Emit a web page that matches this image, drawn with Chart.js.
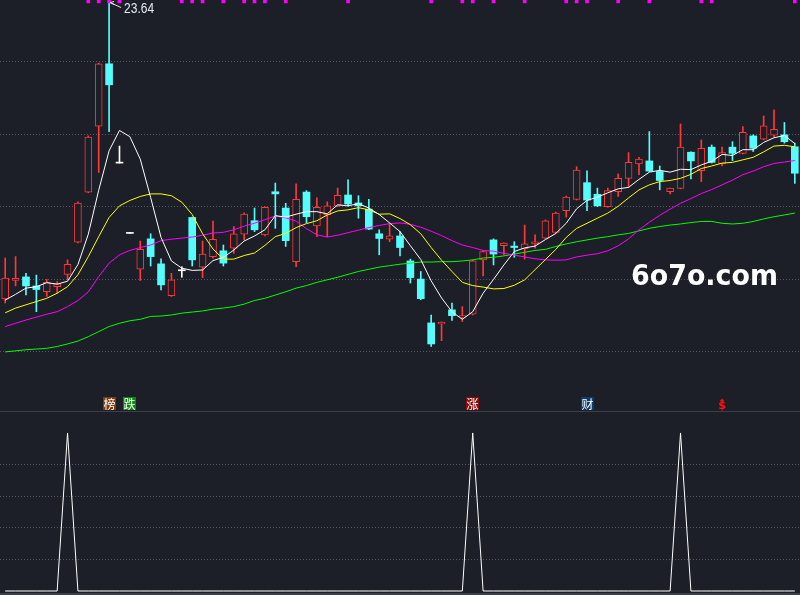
<!DOCTYPE html>
<html><head><meta charset="utf-8">
<script src="https://cdn.jsdelivr.net/npm/chart.js@4.4.1/dist/chart.umd.min.js"></script>
<style>
html,body{margin:0;padding:0;background:#1c1f27;overflow:hidden;}
#wrap{position:relative;width:800px;height:595px;background:#1c1f27;}
#main{position:absolute;left:0;top:0;}
#sub{position:absolute;left:0;top:411px;}
</style></head><body>
<div id="wrap"><canvas id="main" width="800" height="411"></canvas><canvas id="sub" width="800" height="184"></canvas></div>
<script>
// ---- data ----
const opens  = [15.46,15.97,16.07,15.82,15.66,15.80,16.14,17.03,18.41,20.23,21.95,19.21,17.27,16.28,17.12,16.43,15.55,16.24,17.71,16.34,16.63,16.79,16.86,17.25,17.62,17.23,18.42,17.97,16.49,18.41,17.48,17.78,18.03,18.33,18.11,17.94,17.26,17.11,17.20,16.51,16.01,14.80,14.77,15.16,14.96,15.04,16.54,17.09,16.93,16.92,16.85,16.98,17.14,17.30,17.90,18.21,18.67,18.35,18.01,18.42,18.79,19.19,19.27,18.98,18.42,18.51,19.51,19.00,19.65,19.19,19.65,19.48,19.96,19.87,19.98,19.99,19.66];
const highs  = [16.59,16.63,16.17,16.12,16.00,15.94,16.54,18.14,19.96,21.97,23.64,19.68,17.27,17.06,17.26,16.57,16.17,16.35,17.72,17.06,17.61,16.95,17.46,17.84,17.97,18.00,18.66,18.10,18.64,18.45,18.25,18.14,18.52,18.75,18.31,18.21,17.37,17.55,17.32,16.56,16.22,15.02,14.83,15.35,15.25,16.54,16.79,17.12,17.01,17.04,17.50,17.23,17.64,17.86,18.30,19.11,19.00,18.52,18.52,18.91,19.50,19.37,20.08,19.13,18.52,20.29,19.52,19.85,19.71,19.65,19.80,20.22,19.99,20.51,20.68,20.33,19.76];
const lows   = [15.35,15.82,15.57,15.11,15.53,15.62,15.99,17.01,18.39,18.95,20.08,19.21,17.27,15.97,16.37,15.71,15.53,16.06,16.37,16.05,16.59,16.37,16.72,17.09,17.32,17.20,17.41,16.91,16.35,17.56,17.18,17.18,18.01,18.03,17.69,17.37,16.68,17.04,16.65,15.90,15.44,14.15,14.31,14.87,14.84,15.02,16.10,16.40,16.68,16.61,16.56,16.86,17.12,17.28,17.72,18.19,17.90,18.01,17.99,18.29,18.54,18.89,18.98,18.47,18.36,18.50,18.77,18.70,19.21,19.13,19.28,19.46,19.53,19.85,19.94,19.76,18.65];
const closes = [16.04,16.03,15.82,15.72,15.92,15.88,16.42,18.11,19.93,21.95,21.37,19.21,17.27,16.83,16.63,15.85,15.99,16.24,16.54,16.70,17.11,16.45,17.26,17.80,17.37,17.99,18.36,17.07,18.21,17.73,17.99,18.03,18.32,18.08,18.03,17.39,17.13,17.20,16.88,16.05,15.47,14.22,14.82,15.00,15.00,16.51,16.77,16.70,17.00,16.88,16.98,17.04,17.62,17.83,18.27,19.02,18.19,18.03,18.45,18.79,19.23,19.32,18.99,18.73,18.52,19.65,19.27,19.62,19.23,19.50,19.48,20.06,19.62,20.24,20.14,19.80,18.93];
const ma5  = [15.43,15.59,15.76,15.80,15.91,15.87,15.95,16.41,17.25,18.46,19.55,20.11,19.94,19.32,18.26,17.16,16.51,16.31,16.25,16.26,16.52,16.61,16.81,17.06,17.20,17.37,17.76,17.72,17.80,17.87,17.87,17.81,18.06,18.03,18.09,17.97,17.79,17.56,17.32,16.93,16.55,15.96,15.49,15.11,14.90,15.11,15.62,16.00,16.40,16.77,16.87,16.92,17.10,17.27,17.55,17.95,18.18,18.27,18.39,18.50,18.54,18.76,18.96,19.01,18.96,19.04,19.03,19.16,19.26,19.45,19.42,19.58,19.58,19.78,19.91,19.97,19.75];
const ma10 = [15.08,15.21,15.30,15.39,15.48,15.62,15.80,16.13,16.63,17.18,17.71,18.03,18.18,18.29,18.36,18.36,18.31,18.13,17.79,17.26,16.84,16.56,16.56,16.66,16.73,16.94,17.18,17.27,17.43,17.54,17.62,17.78,17.89,17.92,17.98,17.92,17.80,17.81,17.68,17.51,17.26,16.88,16.53,16.22,15.92,15.83,15.79,15.74,15.75,15.84,15.99,16.27,16.55,16.83,17.16,17.41,17.55,17.69,17.83,18.02,18.25,18.47,18.61,18.70,18.73,18.79,18.90,19.06,19.13,19.21,19.23,19.30,19.37,19.52,19.68,19.70,19.66];
const ma20 = [14.70,14.79,14.88,14.96,15.04,15.11,15.25,15.42,15.66,16.08,16.45,16.68,16.80,16.88,16.95,17.07,17.11,17.14,17.17,17.22,17.28,17.30,17.37,17.47,17.55,17.65,17.75,17.70,17.61,17.40,17.23,17.17,17.22,17.29,17.36,17.43,17.49,17.54,17.56,17.52,17.44,17.33,17.21,17.07,16.95,16.88,16.80,16.78,16.72,16.67,16.62,16.57,16.54,16.53,16.54,16.62,16.67,16.71,16.79,16.93,17.12,17.37,17.58,17.77,17.94,18.10,18.23,18.37,18.48,18.61,18.74,18.89,18.99,19.11,19.20,19.24,19.28];
const ma60 = [14.00,14.03,14.06,14.08,14.10,14.15,14.22,14.30,14.42,14.56,14.70,14.79,14.86,14.90,14.98,14.99,15.02,15.07,15.10,15.13,15.18,15.21,15.25,15.32,15.42,15.48,15.57,15.66,15.76,15.83,15.92,15.99,16.06,16.14,16.22,16.28,16.34,16.38,16.42,16.45,16.48,16.48,16.49,16.49,16.51,16.54,16.59,16.61,16.65,16.70,16.75,16.80,16.83,16.91,16.98,17.04,17.09,17.14,17.18,17.23,17.27,17.34,17.41,17.46,17.50,17.53,17.57,17.60,17.60,17.55,17.53,17.55,17.60,17.67,17.73,17.78,17.83];
const markIdx = [8,9,10,11,17,18,19,21,23,24,25,27,33,41,44,45,47,50,54,55,56,59,62,67,68,76];
const signalIdx  = [10,12,45,56,69];
const signalText = ['榜','跌','涨','财','$'];
const signalBg   = ['#7b3d0a','#0c870c','#8a0c0c','#0c3c6c',''];
const peakValues = [0,0,0,0,0,0,100,0,0,0, 0,0,0,0,0,0,0,0,0,0, 0,0,0,0,0,0,0,0,0,0, 0,0,0,0,0,0,0,0,0,0, 0,0,0,0,0,100,0,0,0,0, 0,0,0,0,0,0,0,0,0,0, 0,0,0,0,0,100,0,0,0,0, 0,0,0,0,0,0,0];
const priceGrid = [14,16,18,20,22];
const subGrid = [20,40,60,80];
const priceMin = 12.37, priceMax = 23.71;
const subMin = -2.53, subMax = 113.9;

// ---- styles ----
const BG = '#1c1f27', RED = '#ff3838', CYAN = '#54fcfc', WHITE = '#ffffff', GRID = '#555a66';
const days = opens.map((_, i) => 'D' + (i + 1));
const dir = opens.map((o, i) => closes[i] > o ? 1 : (closes[i] < o ? -1 : 0));
const candleColor = dir.map(d => d > 0 ? RED : (d < 0 ? CYAN : WHITE));
const bodyFill = dir.map(d => d > 0 ? BG : (d < 0 ? CYAN : WHITE));
const bodyBorder = dir.map(d => d > 0 ? 1 : 0);
const bodyData = opens.map((o, i) => [o, closes[i]]);
const wickData = lows.map((l, i) => [l, highs[i]]);
const markData = days.map((_, i) => markIdx.includes(i) ? [priceMax - 0.08, priceMax] : null);

const lineDs = (data, color) => ({type:'line', data, borderColor:color, borderWidth:1, pointRadius:0, tension:0, fill:false, order:0});

const mainDecor = {
  id:'mainDecor',
  afterDatasetsDraw(chart) {
    const ctx = chart.ctx, xs = chart.scales.x, ys = chart.scales.y, area = chart.chartArea;
    // highest price label
    const hi = Math.max(...highs), hIdx = highs.indexOf(hi);
    const hx = xs.getPixelForValue(hIdx), hy = ys.getPixelForValue(hi);
    ctx.save();
    ctx.strokeStyle = '#e8e8e8'; ctx.lineWidth = 1;
    ctx.beginPath();
    ctx.moveTo(hx + 1, hy); ctx.lineTo(hx + 12, hy + 5);
    ctx.moveTo(hx + 5, hy - 1); ctx.lineTo(hx + 1, hy); ctx.lineTo(hx + 5, hy + 2);
    ctx.stroke();
    ctx.fillStyle = '#e2eaf2';
    ctx.font = '14px "Liberation Sans", Arial, sans-serif';
    ctx.textBaseline = 'top'; ctx.textAlign = 'left';
    ctx.fillText(hi.toFixed(2), hx + 15, hy - 0.5, 30);
    // signal tags
    signalIdx.forEach((idx, k) => {
      const x = xs.getPixelForValue(idx), top = area.bottom - 14;
      if (signalText[k] === '$') {
        ctx.fillStyle = '#ff1010';
        ctx.beginPath(); ctx.moveTo(x - 2.5, top + 4.5); ctx.lineTo(x + 2.5, top + 4.5); ctx.lineTo(x, top + 1.5); ctx.closePath(); ctx.fill();
        ctx.font = 'bold 11px "DejaVu Sans", sans-serif';
        ctx.textAlign = 'center'; ctx.textBaseline = 'middle';
        ctx.fillText('$', x, top + 9.5);
      } else {
        ctx.fillStyle = signalBg[k];
        ctx.fillRect(Math.round(x - 6.5), top, 13, 13);
        ctx.fillStyle = '#ffffff';
        ctx.font = '12px "Noto Sans CJK SC", sans-serif';
        ctx.textAlign = 'center'; ctx.textBaseline = 'middle';
        ctx.fillText(signalText[k], Math.round(x - 6.5) + 6.5, top + 7);
      }
    });
    // watermark
    ctx.fillStyle = '#ffffff';
    ctx.font = 'bold 29px "DejaVu Sans", sans-serif';
    ctx.textAlign = 'left'; ctx.textBaseline = 'alphabetic';
    ctx.fillText('6o7o.com', 631, 285, 147);
    ctx.restore();
  }
};

Chart.defaults.font.family = '"Liberation Sans", Arial, sans-serif';

new Chart(document.getElementById('main'), {
  type:'bar',
  data:{ labels:days, datasets:[
    lineDs(ma5, '#ffffff'),
    lineDs(ma10, '#ffff00'),
    lineDs(ma20, '#ff00ff'),
    lineDs(ma60, '#00ff00'),
    {type:'bar', data:markData, backgroundColor:'#ff00ff', borderWidth:0, barThickness:3, grouped:false, order:-1},
    {type:'bar', data:bodyData, backgroundColor:bodyFill, borderColor:candleColor, borderWidth:bodyBorder, borderSkipped:false, barThickness:7, minBarLength:1, grouped:false, order:1},
    {type:'bar', data:wickData, backgroundColor:candleColor, borderWidth:0, barThickness:1, minBarLength:1, grouped:false, order:2}
  ]},
  options:{
    responsive:false, animation:false,
    layout:{padding:0},
    plugins:{legend:{display:false}, tooltip:{enabled:false}},
    scales:{
      x:{type:'category', offset:true, display:false},
      y:{type:'linear', min:priceMin, max:priceMax, position:'left',
         ticks:{display:false}, grid:{color:GRID, lineWidth:1, drawTicks:false},
         border:{display:false, dash:[1,2]},
         afterBuildTicks:(ax) => { ax.ticks = priceGrid.map(v => ({value:v})); }}
    }
  },
  plugins:[mainDecor]
});

const subDecor = {
  id:'subDecor',
  afterDraw(chart) {
    const ctx = chart.ctx;
    ctx.save();
    ctx.fillStyle = '#3a3f49';
    ctx.fillRect(0, 0, chart.width, 1);
    ctx.fillRect(0, chart.height - 2, chart.width, 2);
    ctx.restore();
  }
};

new Chart(document.getElementById('sub'), {
  type:'line',
  data:{ labels:days, datasets:[
    {data:peakValues, borderColor:'#ffffff', borderWidth:1, pointRadius:0, tension:0, fill:false}
  ]},
  options:{
    responsive:false, animation:false,
    layout:{padding:0},
    plugins:{legend:{display:false}, tooltip:{enabled:false}},
    scales:{
      x:{type:'category', offset:true, display:false},
      y:{type:'linear', min:subMin, max:subMax, position:'left',
         ticks:{display:false}, grid:{color:GRID, lineWidth:1, drawTicks:false},
         border:{display:false, dash:[1,2]},
         afterBuildTicks:(ax) => { ax.ticks = subGrid.map(v => ({value:v})); }}
    }
  },
  plugins:[subDecor]
});
</script>
</body></html>
